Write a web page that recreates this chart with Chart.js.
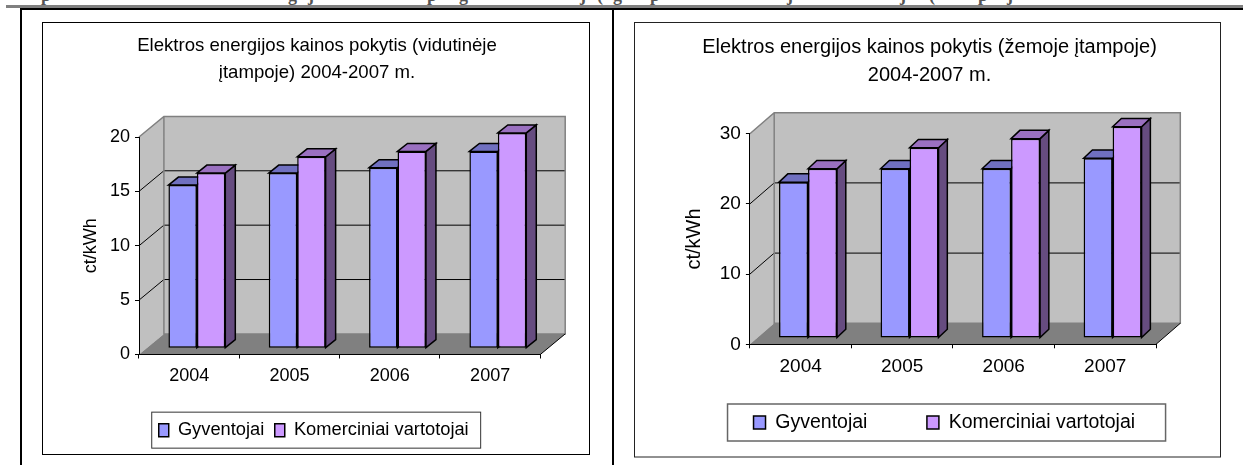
<!DOCTYPE html>
<html lang="lt">
<head>
<meta charset="utf-8">
<title>Elektros energijos kainos pokytis</title>
<script src="https://cdn.jsdelivr.net/npm/chart.js@4/dist/chart.umd.min.js"></script>
<style>
html,body{margin:0;padding:0;background:#fff;width:1243px;height:465px;overflow:hidden}
canvas{position:absolute}
.rule{position:absolute;display:block}
#clip{position:absolute;left:0;top:0;width:1243px;height:5px;overflow:hidden;font:bold 18px/18px "Liberation Serif",serif;color:#555}
#clip span{position:absolute;top:-14px}
</style>
</head>
<body>
<div id="clip"></div>
<div class="rule" style="left:6px;top:5px;width:1237px;height:3px;background:#808080"></div>
<div class="rule" style="left:20px;top:8px;width:1223px;height:2px;background:#000"></div>
<div class="rule" style="left:20px;top:8px;width:2px;height:457px;background:#000"></div>
<div class="rule" style="left:612px;top:8px;width:2px;height:457px;background:#000"></div>
<canvas id="medium" style="left:42px;top:22px"></canvas>
<canvas id="low" style="left:634px;top:22px"></canvas>
<script>
const categories = ["2004", "2005", "2006", "2007"];
const seriesNames = ["Gyventojai", "Komerciniai vartotojai"];
const mediumResidents = [15.0, 16.1, 16.6, 18.1];
const mediumCommercial = [16.1, 17.6, 18.1, 19.8];
const lowResidents = [22.2, 24.1, 24.1, 25.6];
const lowCommercial = [24.1, 27.1, 28.4, 30.1];
const mediumTitle = ["Elektros energijos kainos pokytis (vidutinėje", "įtampoje) 2004-2007 m."];
const lowTitle = ["Elektros energijos kainos pokytis (žemoje įtampoje)", "2004-2007 m."];
const yAxisLabel = "ct/kWh";
const clippedLetters = [["p",41],["g",288],["j",308],["p",427],["g",459],["j",580],["(",597],["g",613],["p",650],["j",787],["j",900],["(",929],["p",978],["j",1007]];

const clip = document.getElementById("clip");
clippedLetters.forEach(([c, x]) => {
  const s = document.createElement("span");
  s.textContent = c; s.style.left = x + "px"; clip.appendChild(s);
});

const FILL = ["#9999FF", "#CC99FF"];
const TOP = ["#7070C0", "#9A70C0"];
const SIDE = ["#4F4F80", "#664C80"];
const FONT = "'Liberation Sans', Arial, sans-serif";

function poly(ctx, pts, fill, stroke, lw) {
  ctx.beginPath();
  pts.forEach((p, i) => i ? ctx.lineTo(p[0], p[1]) : ctx.moveTo(p[0], p[1]));
  ctx.closePath();
  if (fill) { ctx.fillStyle = fill; ctx.fill(); }
  if (stroke) { ctx.strokeStyle = stroke; ctx.lineWidth = lw; ctx.stroke(); }
}

function build(id, g, residents, commercial, title, max, step) {
  const cv = document.getElementById(id);
  cv.width = g.w; cv.height = g.h; cv.style.width = g.w + "px"; cv.style.height = g.h + "px";
  const scene = {
    id: "scene3d",
    afterLayout(chart) {
      const t = chart.titleBlock, l = chart.legend;
      const tk = g.titleCx - (t.left + t.right) / 2;
      t.left += tk; t.right += tk;
      const lk = g.legCx - (l.left + l.right) / 2, ly = g.legTop - l.top;
      l.left += lk; l.right += lk; l.top += ly; l.bottom += ly;
    },
    beforeDraw(chart) {
      const c = chart.ctx, x = chart.scales.x, y = chart.scales.y;
      const L = x.left, R = x.right, Y0 = y.getPixelForValue(0), Yt = y.getPixelForValue(max);
      const dx = g.dx, dy = g.dy;
      c.save();
      c.fillStyle = "#fff"; c.fillRect(0, 0, g.w, g.h);
      // chart frame
      c.strokeStyle = g.frame; c.lineWidth = 1;
      c.strokeRect(0.5, 0.5, g.w - g.frameInsetR, g.h - g.frameInsetB);
      // walls
      poly(c, [[L + dx, Yt + dy], [R + dx, Yt + dy], [R + dx, Y0 + dy], [L + dx, Y0 + dy]], "#C0C0C0");
      poly(c, [[L, Yt], [L + dx, Yt + dy], [L + dx, Y0 + dy], [L, Y0]], "#C0C0C0");
      poly(c, [[L, Y0], [L + dx, Y0 + dy], [R + dx, Y0 + dy], [R, Y0]], "#808080");
      // gridlines from the value scale
      y.ticks.forEach(t => {
        if (t.value === 0 || t.value === max) return;
        const p = y.getPixelForValue(t.value);
        c.beginPath(); c.moveTo(L, p); c.lineTo(L + dx, p + dy); c.lineTo(R + dx, p + dy);
        c.strokeStyle = "#000"; c.lineWidth = 1; c.stroke();
      });
      // wall edges
      c.strokeStyle = "#808080"; c.lineWidth = 1.5;
      c.beginPath();
      c.moveTo(L, Yt); c.lineTo(L + dx, Yt + dy); c.lineTo(R + dx, Yt + dy); c.lineTo(R + dx, Y0 + dy);
      c.lineTo(L + dx, Y0 + dy); c.lineTo(L + dx, Yt + dy);
      c.stroke();
      c.strokeStyle = "#000"; c.lineWidth = 1;
      c.beginPath(); c.moveTo(R, Y0); c.lineTo(R + dx, Y0 + dy); c.stroke();
      // legend frame
      const hb = chart.legend.legendHitBoxes;
      if (hb && hb.length) {
        const lx = hb[0].left - g.legL, rx = hb[hb.length - 1].left + hb[hb.length - 1].width + g.legR;
        const cy = hb[0].top + hb[0].height / 2;
        c.fillStyle = "#fff"; c.fillRect(lx, cy - g.legH / 2, rx - lx, g.legH);
        c.strokeStyle = g.legC; c.lineWidth = g.legW;
        c.strokeRect(lx, cy - g.legH / 2, rx - lx, g.legH);
      }
      c.restore();
    },
    beforeDatasetsDraw(chart) {
      const c = chart.ctx;
      c.save();
      c.lineJoin = "miter";
      chart.data.datasets.forEach((ds, i) => {
        chart.getDatasetMeta(i).data.forEach(el => {
          const l = el.x - el.width / 2 + g.ox, r = el.x + el.width / 2 + g.ox;
          const t = el.y + g.oy, b = el.base + g.oy;
          poly(c, [[r, t], [r + g.bx, t + g.by], [r + g.bx, b + g.by], [r, b]], SIDE[i], "#000", 1.5);
          poly(c, [[l, t], [l + g.bx, t + g.by], [r + g.bx, t + g.by], [r, t]], TOP[i], "#000", 1.5);
        });
      });
      c.restore();
      c.save();
      c.translate(g.ox, g.oy);
    },
    afterDatasetsDraw(chart) { chart.ctx.restore(); }
  };
  return new Chart(cv, {
    type: "bar",
    data: {
      labels: categories,
      datasets: [residents, commercial].map((v, i) => ({
        label: seriesNames[i], data: v, backgroundColor: FILL[i], borderColor: "#000", borderWidth: 1.5,
        borderSkipped: false, clip: false, categoryPercentage: g.cp, barPercentage: 1
      }))
    },
    plugins: [scene],
    options: {
      responsive: false, animation: false, devicePixelRatio: 1,
      layout: { autoPadding: false, padding: { left: 0, right: g.w - g.areaR, top: 0, bottom: g.padB } },
      scales: {
        x: {
          grid: { display: true, drawOnChartArea: false, drawTicks: true, tickLength: 4, color: "#000", offset: true },
          border: { display: true, color: "#000", width: 1 },
          ticks: { color: "#000", font: { family: FONT, size: g.tick }, padding: 7, maxRotation: 0 },
          afterFit(s) { s.height = g.xH; }
        },
        y: {
          min: 0, max: max,
          grid: { display: true, drawOnChartArea: false, drawTicks: true, tickLength: 4, color: "#000" },
          border: { display: true, color: "#000", width: 1 },
          ticks: { color: "#000", stepSize: step, font: { family: FONT, size: g.tick }, padding: 5 },
          title: { display: true, text: yAxisLabel, color: "#000", font: { family: FONT, size: g.axis, lineHeight: 1.1 }, padding: { top: g.axisPad, bottom: 0 } },
          afterFit(s) { s.width = g.yW; }
        }
      },
      plugins: {
        title: {
          display: true, text: title, color: "#000",
          font: { family: FONT, size: g.titleSize, weight: "normal", lineHeight: g.titleLH },
          padding: { top: g.titleTop, bottom: g.titleBottom }
        },
        legend: {
          display: true, position: "bottom",
          labels: { color: "#000", font: { family: FONT, size: g.legend }, boxWidth: g.boxW, boxHeight: g.boxH, padding: g.legPad }
        },
        tooltip: { enabled: false }
      }
    }
  });
}

build("medium", {
  w: 548, h: 433, frame: "#000", frameInsetR: 1, frameInsetB: 1,
  dx: 24.9, dy: -20.6, ox: 7.7, oy: -6.3, bx: 10, by: -8, cp: 0.567,
  axisPad: 39, yW: 97, areaR: 498.3, padB: 6.5, xH: 55.2,
  tick: 18, axis: 18, titleSize: 18.6, titleLH: 1.452, titleTop: 10.5, titleBottom: 50.5, titleCx: 275,
  legend: 18.3, boxW: 10, boxH: 13, legPad: 10.5, legL: 7, legR: 12, legH: 36, legC: "#333", legW: 1, legCx: 271.7, legTop: 388.5
}, mediumResidents, mediumCommercial, mediumTitle, 20, 5);

build("low", {
  w: 588, h: 436, frame: "#222", frameInsetR: 2, frameInsetB: 1.5,
  dx: 24.3, dy: -21, ox: 7.35, oy: -6.3, bx: 8.8, by: -8.3, cp: 0.571,
  axisPad: 49.7, yW: 115.9, areaR: 522, padB: -15.3, xH: 40,
  tick: 19, axis: 20, titleSize: 20, titleLH: 1.415, titleTop: 11.5, titleBottom: 43.6, titleCx: 295.5,
  legend: 19.5, boxW: 12, boxH: 13, legPad: 59.5, legL: 26, legR: 30.5, legH: 37, legC: "#666", legW: 1.5, legCx: 310.3, legTop: 331.25
}, lowResidents, lowCommercial, lowTitle, 30, 10);
</script>
</body>
</html>
